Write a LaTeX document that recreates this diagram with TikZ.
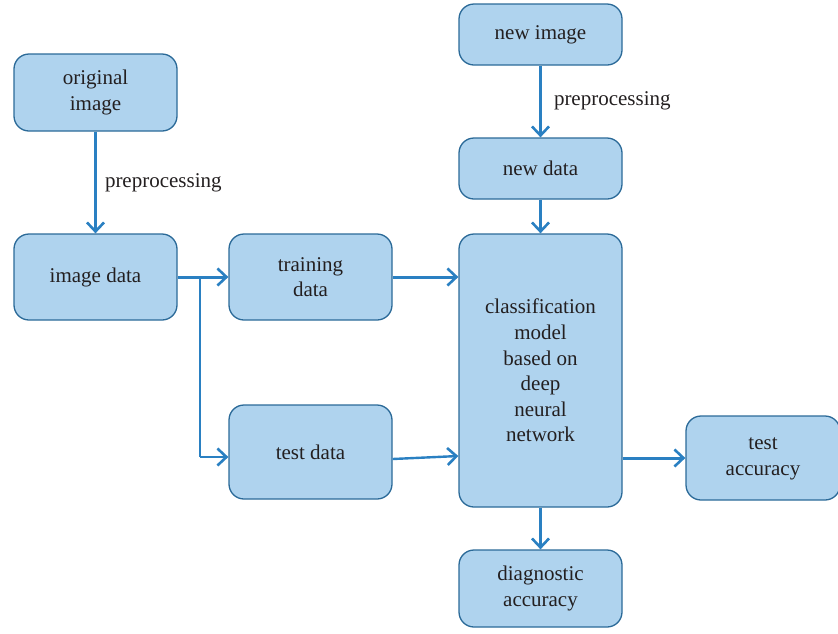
\documentclass[tikz,border=0pt]{standalone}
\usepackage{fontspec}
\setmainfont{Liberation Serif}
\usetikzlibrary{arrows.meta}
\definecolor{boxfill}{HTML}{AFD3EE}
\definecolor{boxline}{HTML}{2B6A98}
\definecolor{arr}{HTML}{2A80C2}
\definecolor{txt}{HTML}{231F20}
\tikzset{
  box/.style={draw=boxline, fill=boxfill, line width=1.3pt, rounded corners=15pt,
    text=txt, align=center, inner sep=0pt, font=\fontsize{21}{25.6}\selectfont},
  conn/.style={draw=arr, line width=3pt, -{Straight Barb[length=9pt,width=17pt,line width=2.6pt]}},
  thin/.style={draw=arr, line width=1.8pt},
  lbl/.style={text=txt, font=\fontsize{21}{25.6}\selectfont, anchor=west, inner sep=0pt}
}
\begin{document}
\begin{tikzpicture}[x=1pt,y=-1pt]
\useasboundingbox (0,0) rectangle (838,633);
\node[box, minimum width=163pt, minimum height=77pt] (orig) at (95.5,92.5) {original\\image};
\node[box, minimum width=163pt, minimum height=86pt] (imgdata) at (95.5,277) {image data};
\node[box, minimum width=163pt, minimum height=86pt] (train) at (310.5,277) {training\\data};
\node[box, minimum width=163pt, minimum height=94pt] (test) at (310.5,452) {test data};
\node[box, minimum width=163pt, minimum height=61pt] (newimg) at (540.5,34.5) {new image};
\node[box, minimum width=163pt, minimum height=61pt] (newdata) at (540.5,168.5) {new data};
\node[box, minimum width=163pt, minimum height=273pt] (model) at (540.5,370.5) {classification\\model\\based on\\deep\\neural\\network};
\node[box, minimum width=154pt, minimum height=84pt, text depth=3pt] (testacc) at (763,458) {test\\accuracy};
\node[box, minimum width=163pt, minimum height=77pt] (diag) at (540.5,588.5) {diagnostic\\accuracy};

\coordinate (br) at (200,277);
\coordinate (brd) at (200,457);

\draw[conn] (orig) -- (imgdata) node[midway, lbl, xshift=8pt] {preprocessing};
\draw[conn] (newimg) -- (newdata) node[midway, lbl, xshift=12pt, yshift=1pt] {preprocessing};
\draw[conn] (newdata) -- (model);
\draw[conn] (imgdata.east) -- (train.west);
\draw[thin] (br) -- (brd);
\draw[conn, line width=2.4pt] (brd) -- (test.west |- brd);
\draw[conn] (train.east) -- (model.west |- train.east);
\draw[conn, line width=2.4pt] ([yshift=-7pt]test.east) -- (model.west |- 0,456);
\draw[conn] (model.east |- testacc.west) -- (testacc.west);
\draw[conn] (model.south) -- (diag.north);
\end{tikzpicture}
\end{document}
